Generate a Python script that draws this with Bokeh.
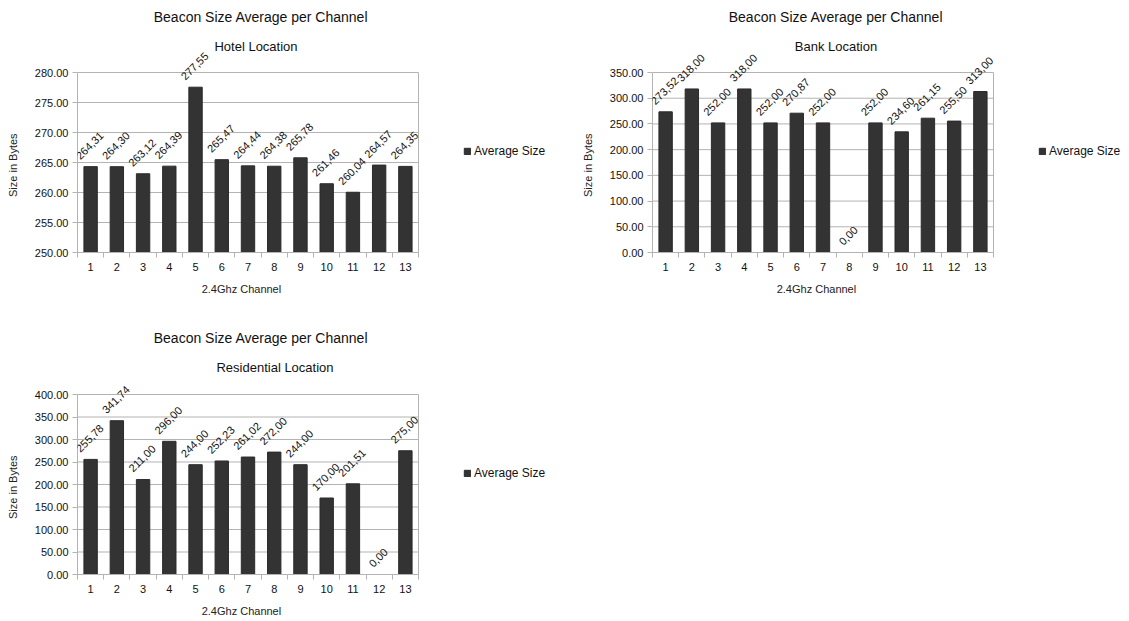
import math

from bokeh.core.properties import value
from bokeh.embed import file_html
from bokeh.layouts import column, row
from bokeh.models import (ColumnDataSource, FixedTicker, Label, LabelSet,
                          Legend, LegendItem, LinearAxis, NumeralTickFormatter,
                          Range1d)
from bokeh.plotting import figure
from bokeh.resources import INLINE

# --- data -------------------------------------------------------------------
channels = [1, 2, 3, 4, 5, 6, 7, 8, 9, 10, 11, 12, 13]

hotel_sizes = [264.31, 264.30, 263.12, 264.39, 277.55, 265.47, 264.44,
               264.38, 265.78, 261.46, 260.04, 264.57, 264.35]
bank_sizes = [273.52, 318.00, 252.00, 318.00, 252.00, 270.87, 252.00,
              0.00, 252.00, 234.60, 261.15, 255.50, 313.00]
residential_sizes = [255.78, 341.74, 211.00, 296.00, 244.00, 252.23, 261.02,
                     272.00, 244.00, 170.00, 201.51, 0.00, 275.00]

hotel_ticks = [250, 255, 260, 265, 270, 275, 280]
bank_ticks = [0, 50, 100, 150, 200, 250, 300, 350]
residential_ticks = [0, 50, 100, 150, 200, 250, 300, 350, 400]

main_title = "Beacon Size Average per Channel"
x_label = "2.4Ghz Channel"
y_label = "Size in Bytes"
series_name = "Average Size"

# --- styling ----------------------------------------------------------------
FONT = "Liberation Sans"
BAR = "#333333"
GRID = "#b3b3b3"
TEXT = "#111111"
LABEL_PX = 11
PLOT_W = 341   # width of the bar area in px
PLOT_H = 180   # height of the bar area in px


def value_label(v):
    return f"{v:.2f}".replace(".", ",")


def label_lift(text):
    # rotated label sits with its bounding box just above the bar top
    w = LABEL_PX * (0.556 * sum(ch.isdigit() for ch in text) + 0.278)
    h = 12
    return 5 + (w + h) * 0.3536


def title_axis(location, text, standoff, orientation="horizontal"):
    """An axis that only carries a title, placed at one chosen coordinate."""
    ax = LinearAxis(ticker=FixedTicker(ticks=[location], minor_ticks=[]),
                    major_label_overrides={location: text},
                    major_label_orientation=orientation,
                    major_label_standoff=standoff,
                    major_label_text_font=FONT,
                    major_label_text_font_size="11px",
                    major_label_text_color="#222222",
                    axis_line_color=None, major_tick_line_color=None,
                    minor_tick_line_color=None,
                    major_tick_out=0, major_tick_in=0)
    return ax


def make_chart(subtitle, sizes, ticks, width, height, left, top, bottom,
               title_dx, subtitle_dx):
    lo, hi = ticks[0], ticks[-1]
    x0, x1 = channels[0] - 0.5, channels[-1] + 0.5
    frame_w = width - left
    frame_h = height - bottom
    # the frame reaches the figure's top and right edges, so titles, rotated
    # value labels and the legend all live inside it without being clipped
    x_end = x0 + (x1 - x0) * frame_w / PLOT_W
    y_end = lo + (hi - lo) * frame_h / PLOT_H

    p = figure(width=width, height=height, output_backend="svg",
               toolbar_location=None, title=None,
               x_range=Range1d(x0, x_end), y_range=Range1d(lo, y_end),
               min_border_left=left, min_border_top=0,
               min_border_right=0, min_border_bottom=bottom)
    p.background_fill_color = "white"
    p.border_fill_color = "white"
    p.outline_line_color = None

    # grid lines and the right-hand border of the bar area
    p.segment(x0=[x0] * len(ticks), x1=[x1] * len(ticks), y0=ticks, y1=ticks,
              line_color=GRID, line_width=1)
    p.segment(x0=[x1], x1=[x1], y0=[lo], y1=[hi], line_color=GRID, line_width=1)

    labels = [value_label(v) for v in sizes]
    src = ColumnDataSource(dict(
        x=channels, top=sizes, bottom=[lo] * len(sizes),
        label=labels, lift=[label_lift(t) for t in labels]))

    bars = p.vbar(x="x", top="top", bottom="bottom", width=0.51, source=src,
                  fill_color=BAR, line_color="#2b2b2b", line_width=1)

    p.add_layout(LabelSet(x="x", y="top", text="label", source=src,
                          angle=math.pi / 4, text_align="center",
                          text_baseline="middle", y_offset="lift", x_offset=-1,
                          text_font=value(FONT),
                          text_font_size=value(f"{LABEL_PX}px"),
                          text_color=TEXT))

    # titles, centred a little to the right of the bar area
    xc = (x0 + x1) / 2
    p.add_layout(Label(x=xc, y=hi, x_offset=title_dx, y_offset=top - 16,
                       text=main_title, text_align="center",
                       text_baseline="middle", text_font=FONT,
                       text_font_size="14px", text_color=TEXT))
    p.add_layout(Label(x=xc, y=hi, x_offset=subtitle_dx, y_offset=top - 46,
                       text=subtitle, text_align="center",
                       text_baseline="middle", text_font=FONT,
                       text_font_size="13px", text_color=TEXT))

    # x axis: category labels at the bar centres, small ticks between bars
    p.xaxis.bounds = (x0, x1)
    p.xaxis.ticker = FixedTicker(ticks=channels,
                                 minor_ticks=[c - 0.5 for c in channels] + [x1])
    p.xaxis.major_tick_line_color = None
    p.xaxis.major_tick_out = 0
    p.xaxis.major_tick_in = 0
    p.xaxis.minor_tick_line_color = GRID
    p.xaxis.minor_tick_out = 5
    p.xaxis.minor_tick_in = 0
    p.xaxis.major_label_standoff = 5

    p.yaxis.bounds = (lo, hi)
    p.yaxis.ticker = FixedTicker(ticks=ticks, minor_ticks=[])
    p.yaxis.formatter = NumeralTickFormatter(format="0.00")
    p.yaxis.major_tick_line_color = GRID
    p.yaxis.major_tick_out = 5
    p.yaxis.major_tick_in = 0
    p.yaxis.major_label_standoff = 4

    for ax in (p.xaxis, p.yaxis):
        ax.axis_line_color = GRID
        ax.major_label_text_font = FONT
        ax.major_label_text_font_size = "11px"
        ax.major_label_text_color = TEXT

    p.xgrid.grid_line_color = None
    p.ygrid.grid_line_color = None

    # axis titles centred on the bar area rather than on the whole frame
    p.add_layout(title_axis(xc - 0.25, x_label, 9), "below")
    p.add_layout(title_axis((lo + hi) / 2 - (hi - lo) * 0.015, y_label, 12,
                            "vertical"), "left")

    # legend to the right of the bar area, slightly above its middle
    legend = Legend(items=[LegendItem(label=series_name, renderers=[bars])],
                    location=(PLOT_W + 45, 94), border_line_color=None,
                    background_fill_alpha=0, padding=0, margin=0,
                    glyph_width=8, glyph_height=8, label_standoff=3,
                    label_height=12, spacing=0,
                    label_text_font=FONT, label_text_font_size="12px",
                    label_text_color=TEXT)
    p.add_layout(legend, "center")
    return p


hotel = make_chart("Hotel Location", hotel_sizes, hotel_ticks,
                   564, 321, 77, 72, 69, 13, 8)
bank = make_chart("Bank Location", bank_sizes, bank_ticks,
                  565, 321, 88, 72, 69, 13, 13)
residential = make_chart("Residential Location", residential_sizes,
                         residential_ticks, 564, 300, 77, 73, 47, 13, 27)

layout = column(row(hotel, bank), residential)

open("out.html", "w").write(file_html(layout, INLINE))
